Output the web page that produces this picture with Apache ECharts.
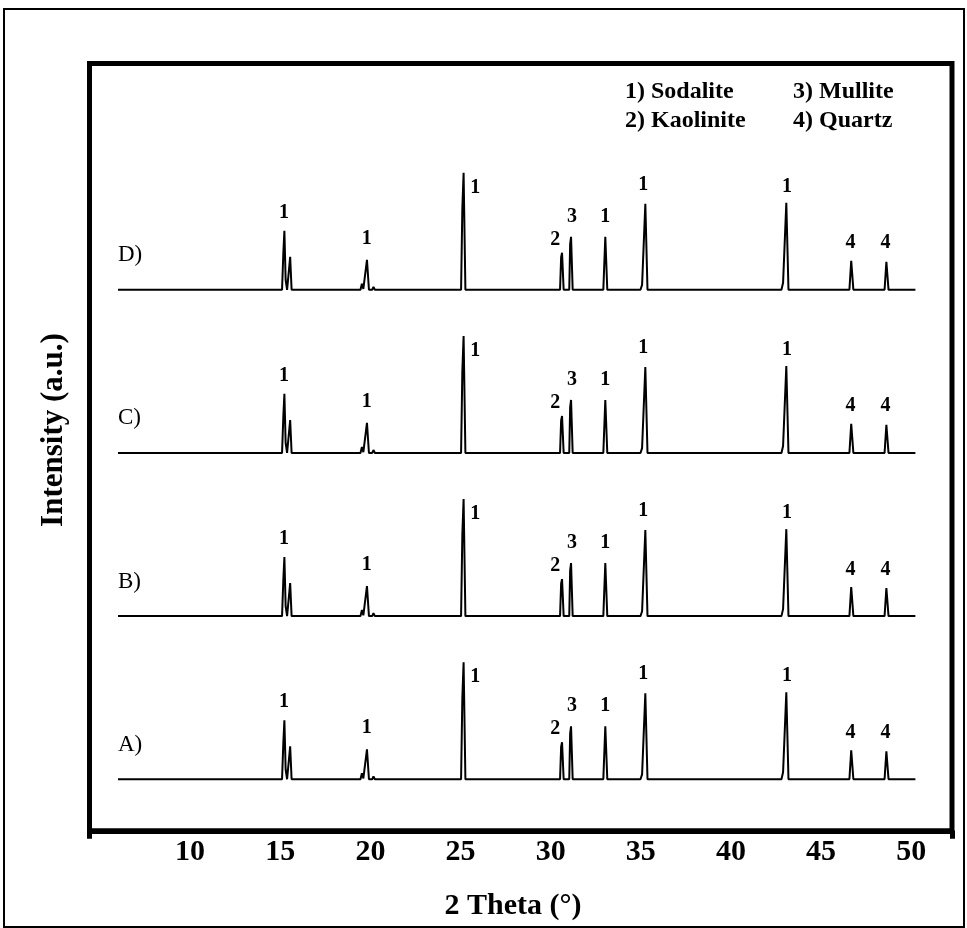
<!DOCTYPE html>
<html>
<head>
<meta charset="utf-8">
<script src="https://cdn.jsdelivr.net/npm/echarts@6/dist/echarts.min.js"></script>
<style>
html,body{margin:0;padding:0;background:#fff;}
#chart{width:967px;height:928px;}
</style>
</head>
<body>
<div id="chart"></div>
<script>
// ---- data (2θ in degrees, intensity in a.u.) ----
const twoTheta = [6.00, 15.10, 15.17, 15.23, 15.30, 15.38, 15.47, 15.55, 15.63,
  19.45, 19.53, 19.61, 19.71, 19.81, 19.92, 20.10, 20.17, 20.25,
  25.03, 25.10, 25.17, 25.27,
  30.52, 30.58, 30.63, 30.72, 31.03, 31.08, 31.13, 31.22,
  32.92, 33.03, 33.14,
  34.98, 35.07, 35.13, 35.25, 35.37,
  42.80, 42.89, 42.96, 43.07, 43.19,
  46.57, 46.67, 46.79, 48.52, 48.62, 48.74, 50.23];

const intensityA = [0, 0, 22, 36.2, 6, 0, 0, 20.2, 0,
  0, 3.7, 0.5, 0, 18.4, 0, 0, 1.8, 0,
  0, 50, 71.7, 0,
  0, 20, 22.7, 0, 0, 28, 32.5, 0,
  0, 32.5, 0,
  0, 3, 4, 52.7, 0,
  0, 4.3, 5, 53.3, 0,
  0, 17.8, 0, 0, 17.2, 0, 0];
const intensityB = [0, 0, 22, 36.2, 6, 0, 0, 20.2, 0,
  0, 3.7, 0.5, 0, 18.4, 0, 0, 1.8, 0,
  0, 50, 71.7, 0,
  0, 20, 22.7, 0, 0, 28, 32.5, 0,
  0, 32.5, 0,
  0, 3, 4, 52.7, 0,
  0, 4.3, 5, 53.3, 0,
  0, 17.8, 0, 0, 17.2, 0, 0];
const intensityC = [0, 0, 22, 36.2, 6, 0, 0, 20.2, 0,
  0, 3.7, 0.5, 0, 18.4, 0, 0, 1.8, 0,
  0, 50, 71.7, 0,
  0, 20, 22.7, 0, 0, 28, 32.5, 0,
  0, 32.5, 0,
  0, 3, 4, 52.7, 0,
  0, 4.3, 5, 53.3, 0,
  0, 17.8, 0, 0, 17.2, 0, 0];
const intensityD = [0, 0, 22, 36.2, 6, 0, 0, 20.2, 0,
  0, 3.7, 0.5, 0, 18.4, 0, 0, 1.8, 0,
  0, 50, 71.7, 0,
  0, 20, 22.7, 0, 0, 28, 32.5, 0,
  0, 32.5, 0,
  0, 3, 4, 52.7, 0,
  0, 4.3, 5, 53.3, 0,
  0, 17.8, 0, 0, 17.2, 0, 0];

const sampleNames = ['A)', 'B)', 'C)', 'D)'];
const sampleOffsets = [0, 100, 200, 300];

// phase markers above peaks (1 Sodalite, 2 Kaolinite, 3 Mullite, 4 Quartz)
const markerX    = [15.21, 19.80, 25.81, 30.25, 31.18, 33.03, 35.14, 43.11, 46.63, 48.57];
const markerY    = [47.2, 31.3, 62.5, 30.7, 44.9, 44.9, 64.4, 63.3, 28.6, 28.6];
const markerText = ['1', '1', '1', '2', '3', '1', '1', '1', '4', '4'];

const xTickLabels = [10, 15, 20, 25, 30, 35, 40, 45, 50];
const legendLines = [['1) Sodalite', '3) Mullite'], ['2) Kaolinite', '4) Quartz']];

// ---- chart ----
const intensities = [intensityA, intensityB, intensityC, intensityD];
const FONT = '"Liberation Serif", "Times New Roman", serif';
const chart = echarts.init(document.getElementById('chart'));

const series = [];
sampleNames.forEach((name, i) => {
  series.push({
    type: 'line', name: name, symbol: 'none', silent: true,
    lineStyle: {color: '#000', width: 2},
    data: twoTheta.map((x, j) => [x, intensities[i][j] + sampleOffsets[i]])
  });
  series.push({
    type: 'scatter', symbolSize: 0, silent: true,
    itemStyle: {color: '#000', opacity: 1},
    label: {show: true, position: 'inside', color: '#000', opacity: 1, textBorderWidth: 0,
      fontFamily: FONT, fontWeight: 'bold', fontSize: 20,
      formatter: p => p.data[2]},
    data: markerX.map((x, k) => [x, markerY[k] + sampleOffsets[i], markerText[k]])
  });
  series.push({
    type: 'scatter', symbolSize: 0, silent: true,
    itemStyle: {color: '#000', opacity: 1},
    label: {show: true, position: 'inside', align: 'left', color: '#000', opacity: 1, textBorderWidth: 0,
      fontFamily: FONT, fontWeight: 'normal', fontSize: 23,
      formatter: p => p.data[2]},
    data: [[6.0, 21.2 + sampleOffsets[i], name]]
  });
});

const graphics = [
  {type: 'rect', shape: {x: 4, y: 9, width: 960, height: 918},
   style: {fill: 'none', stroke: '#000', lineWidth: 2}, silent: true},
  {type: 'text', x: 54, y: 430, rotation: Math.PI / 2,
   style: {text: 'Intensity (a.u.)', font: 'bold 31px ' + FONT, fill: '#000',
     align: 'center', verticalAlign: 'middle', textAlign: 'center', textVerticalAlign: 'middle'}},
  {type: 'text', x: 513, y: 906,
   style: {text: '2 Theta (°)', font: 'bold 30px ' + FONT, fill: '#000',
     align: 'center', verticalAlign: 'middle', textAlign: 'center', textVerticalAlign: 'middle'}}
];
const legendX = [625, 793];
const legendY = [92, 121];
legendLines.forEach((row, r) => row.forEach((t, c) => {
  graphics.push({type: 'text', x: legendX[c], y: legendY[r],
    style: {text: t, font: 'bold 24px ' + FONT, fill: '#000',
      align: 'left', verticalAlign: 'middle', textAlign: 'left', textVerticalAlign: 'middle'}});
}));

chart.setOption({
  animation: false,
  backgroundColor: '#fff',
  grid: {left: 89.5, top: 63.5, width: 862.5, height: 767.3,
    show: true, borderColor: '#000', borderWidth: 5, backgroundColor: 'transparent'},
  xAxis: {
    type: 'value', min: 4.42, max: 52.26,
    axisLine: {show: true, onZero: false, lineStyle: {color: '#000', width: 5}},
    axisTick: {show: true, customValues: [4.42, 52.26], length: 8, lineStyle: {color: '#000', width: 5}},
    axisLabel: {customValues: xTickLabels, margin: 6, color: '#000',
      fontFamily: FONT, fontWeight: 'bold', fontSize: 30},
    splitLine: {show: false}
  },
  yAxis: {type: 'value', min: -31.58, max: 438.7, show: false, splitLine: {show: false}},
  series: series,
  graphic: graphics
});
</script>
</body>
</html>
